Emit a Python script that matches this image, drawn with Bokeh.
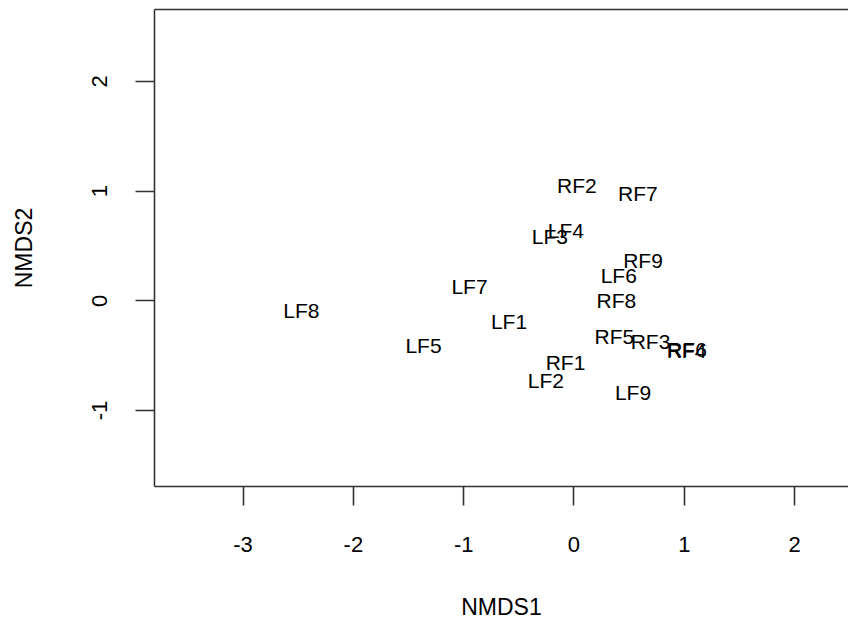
from bokeh.plotting import figure
from bokeh.models import Range1d, FixedTicker, LinearAxis, ColumnDataSource
from bokeh.core.properties import value
from bokeh.embed import file_html
from bokeh.resources import INLINE

# NMDS site scores (label positions)
sites = ["LF1", "LF2", "LF3", "LF4", "LF5", "LF6", "LF7", "LF8", "LF9",
         "RF1", "RF2", "RF3", "RF4", "RF5", "RF6", "RF7", "RF8", "RF9"]
nmds1 = [-0.589, -0.254, -0.218, -0.073, -1.364, 0.406, -0.947, -2.471, 0.535,
         -0.077, 0.027, 0.694, 1.020, 0.367, 1.025, 0.580, 0.385, 0.626]
nmds2 = [-0.193, -0.727, 0.586, 0.641, -0.412, 0.231, 0.135, -0.088, -0.832,
         -0.563, 1.047, -0.371, -0.455, -0.326, -0.448, 0.978, 0.003, 0.367]

x_ticks = [-3, -2, -1, 0, 1, 2]
x_tick_labels = ["-3", "-2", "-1", "0", "1", "2"]
y_ticks = [-1, 0, 1, 2]
y_tick_labels = ["-1", "0", "1", "2"]

FONT = "Liberation Sans"
AXIS_COLOR = "#333333"
TEXT_COLOR = "#000000"

p = figure(width=848, height=624, output_backend="svg", toolbar_location=None,
           x_range=Range1d(-3.803, 2.489), y_range=Range1d(-1.693, 2.656),
           x_axis_label="NMDS1", y_axis_label="NMDS2",
           min_border_left=154, min_border_right=0, min_border_top=9,
           min_border_bottom=138)
p.outline_line_color = None
p.xgrid.visible = False
p.ygrid.visible = False
p.background_fill_color = "white"
p.border_fill_color = "white"

src = ColumnDataSource(dict(x=nmds1, y=nmds2, label=sites))
p.text(x="x", y="y", text="label", source=src, text_align="center",
       text_baseline="middle", text_font=value(FONT), text_font_size="21px",
       text_color=TEXT_COLOR)

for ax, ticks, labels in ((p.xaxis[0], x_ticks, x_tick_labels),
                          (p.yaxis[0], y_ticks, y_tick_labels)):
    ax.ticker = FixedTicker(ticks=ticks)
    ax.major_label_overrides = {t: l for t, l in zip(ticks, labels)}
    ax.axis_line_color = AXIS_COLOR
    ax.axis_line_width = 1.6
    ax.major_tick_line_color = AXIS_COLOR
    ax.major_tick_line_width = 1.6
    ax.major_tick_out = 19
    ax.major_tick_in = 0
    ax.minor_tick_out = 0
    ax.minor_tick_in = 0
    ax.major_label_text_font = FONT
    ax.major_label_text_font_size = "22px"
    ax.major_label_text_color = TEXT_COLOR
    ax.axis_label_text_font = FONT
    ax.axis_label_text_font_size = "23px"
    ax.axis_label_text_font_style = "normal"
    ax.axis_label_text_color = TEXT_COLOR

p.xaxis.major_label_standoff = 31
p.xaxis.axis_label_standoff = 39
p.yaxis.major_label_orientation = "vertical"
p.yaxis.major_label_standoff = 28
p.yaxis.axis_label_standoff = 53

# top border of the plotting box
top = LinearAxis(ticker=FixedTicker(ticks=[]), axis_line_color=AXIS_COLOR,
                 axis_line_width=1.6, major_tick_out=0, major_tick_in=0,
                 minor_tick_out=0, minor_tick_in=0, major_label_standoff=0,
                 major_label_text_font_size="0px")
p.add_layout(top, "above")

open("out.html", "w").write(file_html(p, INLINE))
